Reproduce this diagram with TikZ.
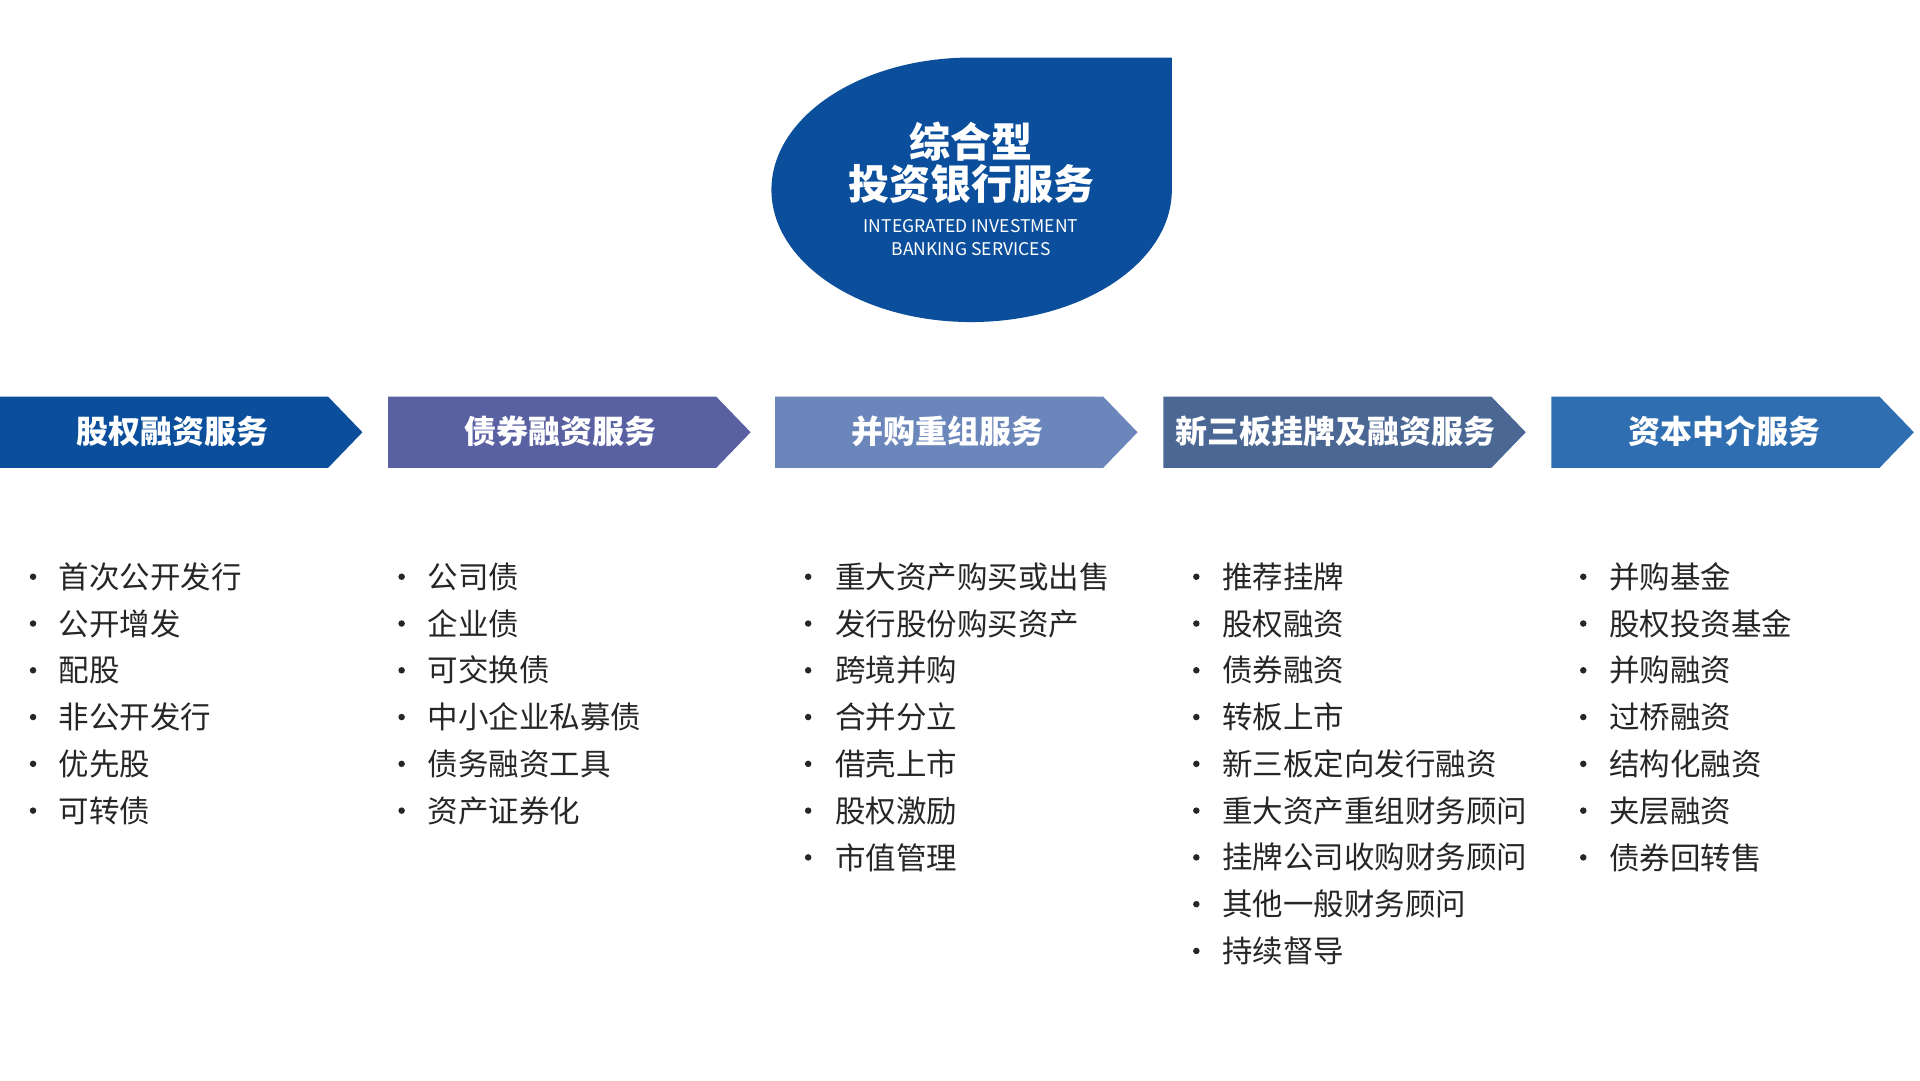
\documentclass[tikz,border=0pt]{standalone}
\usepackage{fontspec}
\setmainfont{Noto Sans CJK SC}
\definecolor{cA}{HTML}{0B4F9C}
\definecolor{cB}{HTML}{5A61A3}
\definecolor{cC}{HTML}{6B86BB}
\definecolor{cD}{HTML}{4B6895}
\definecolor{cE}{HTML}{2F6EB0}
\definecolor{txt}{HTML}{262626}
\tikzset{
  hdr/.style={font=\fontsize{32}{36}\selectfont\bfseries, text=white},
  item/.style={font=\fontsize{30.5}{34}\selectfont, text=txt, anchor=west, inner sep=0pt},
  dot/.style={circle, fill=txt, inner sep=0pt, minimum size=6.5pt}
}
\newcommand{\chev}[3]{%
  \fill[#3] (#1,324) -- (#1+268,324) -- (#1+296,353) -- (#1+268,382) -- (#1,382) -- cycle;
  \node[hdr] (h#2) at (#1+141,352) {#2};}
\newcommand{\col}[3]{%
  \foreach \t [count=\i] in {#3} {
    \node[dot] (d#1\i) at (#1,{471+(\i-1)*38.2}) {};
    \node[item] (t#1\i) at (#2,{471+(\i-1)*38.2}) {\t};
  }}
\begin{document}
\begin{tikzpicture}[x=1.2245pt,y=-1.2245pt]
\useasboundingbox (0,0) rectangle (1568,882);
\fill[cA] (957,47) -- (793,47) arc[start angle=270,end angle=90,x radius=163,y radius=108]
  arc[start angle=90,end angle=0,x radius=164,y radius=108] -- cycle;
\node[text=white, font=\fontsize{41}{46}\selectfont\bfseries, align=center] (title) at (793,133) {综合型\\[-4pt]投资银行服务};
\node[text=white, font=\fontsize{17.5}{23}\selectfont, align=center] (sub) at (793,194) {INTEGRATED INVESTMENT\\BANKING SERVICES};
\chev{0}{股权融资服务}{cA}
\chev{317}{债券融资服务}{cB}
\chev{633}{并购重组服务}{cC}
\fill[cD] (950,324) -- (1218,324) -- (1246,353) -- (1218,382) -- (950,382) -- cycle;
\node[hdr] (h4) at (1091,352) {新三板挂牌及融资服务};
\chev{1267}{资本中介服务}{cE}
\col{27}{48}{首次公开发行,公开增发,配股,非公开发行,优先股,可转债}
\col{328}{349}{公司债,企业债,可交换债,中小企业私募债,债务融资工具,资产证券化}
\col{660}{682}{重大资产购买或出售,发行股份购买资产,跨境并购,合并分立,借壳上市,股权激励,市值管理}
\col{977}{998}{推荐挂牌,股权融资,债券融资,转板上市,新三板定向发行融资,重大资产重组财务顾问,挂牌公司收购财务顾问,其他一般财务顾问,持续督导}
\col{1293}{1314}{并购基金,股权投资基金,并购融资,过桥融资,结构化融资,夹层融资,债券回转售}
\end{tikzpicture}
\end{document}
